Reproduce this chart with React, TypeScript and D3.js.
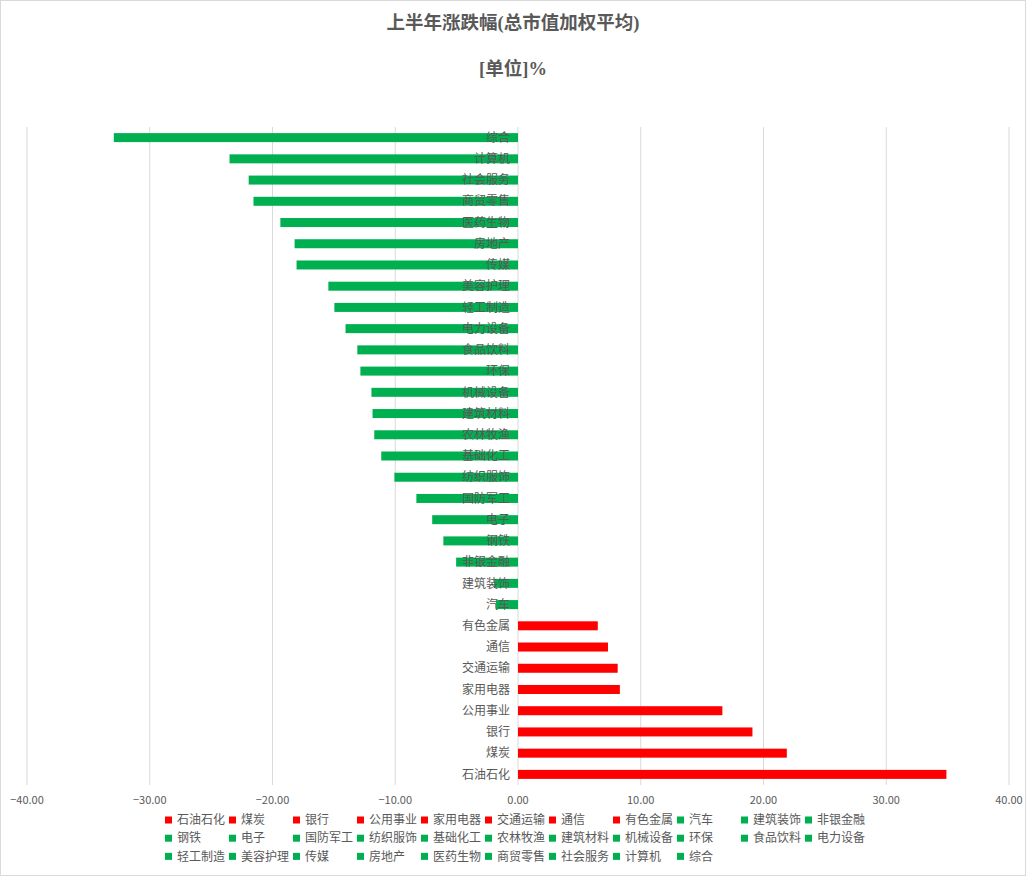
import React from 'react';
import * as d3 from 'd3';

// industries, ordered as in the legend (largest gain first)
const industries = [
  '石油石化', '煤炭', '银行', '公用事业', '家用电器', '交通运输', '通信', '有色金属',
  '汽车', '建筑装饰', '非银金融', '钢铁', '电子', '国防军工', '纺织服饰', '基础化工',
  '农林牧渔', '建筑材料', '机械设备', '环保', '食品饮料', '电力设备', '轻工制造',
  '美容护理', '传媒', '房地产', '医药生物', '商贸零售', '社会服务', '计算机', '综合',
];

// first-half change, %
const changes = [
  34.9, 21.9, 19.1, 16.65, 8.3, 8.12, 7.33, 6.5,
  -1.8, -1.95, -5.04, -6.08, -6.99, -8.28, -10.07, -11.14,
  -11.71, -11.85, -11.94, -12.84, -13.09, -14.05, -14.96,
  -15.45, -18.04, -18.2, -19.36, -21.55, -21.94, -23.5, -32.93,
];

const xTicks = [-40, -30, -20, -10, 0, 10, 20, 30, 40];

const W = 1026;
const H = 876;
const UP = '#FF0000';
const DOWN = '#00B050';
const TXT = '#595959';
const GRID = '#d9d9d9';
const CJK = '"Noto Sans CJK SC", "Noto Sans", sans-serif';
const TITLE_FONT = '"Liberation Serif", "Noto Sans CJK SC", serif';

const App = () => {
  const x = d3.scaleLinear().domain([-40, 40]).range([27, 1009]);

  // bottom row is the first industry, top row the last one
  const y = d3
    .scaleBand<string>()
    .domain([...industries].reverse())
    .range([127, 785])
    .paddingInner(0.576)
    .paddingOuter(0.288);

  const rows = industries.map((name, i) => ({name, value: changes[i]}));

  // legend layout: 11 per row
  const perRow = 11;
  const legendX = 165;
  const legendStep = 64;
  const legendY = 820;
  const legendRowH = 18.2;

  return (
    <svg
      width={W}
      height={H}
      style={{position: 'absolute', left: 0, top: 0, background: '#fff'}}
      fontFamily={CJK}
    >
      <rect x={0.5} y={0.5} width={W - 1} height={H - 1} fill="#fff" stroke={GRID} />

      <text x={513} y={29} textAnchor="middle" fontSize={18.5} fontWeight="bold" fill={TXT} fontFamily={TITLE_FONT}>
        上半年涨跌幅(总市值加权平均)
      </text>
      <text x={513} y={75} textAnchor="middle" fontSize={18.5} fontWeight="bold" fill={TXT} fontFamily={TITLE_FONT}>
        [单位]%
      </text>

      {/* grid */}
      <g>
        {xTicks.map(t => (
          <line key={t} x1={x(t)} x2={x(t)} y1={127} y2={785} stroke={GRID} strokeWidth={1} />
        ))}
      </g>

      {/* bars */}
      <g>
        {rows.map(d => (
          <rect
            key={d.name}
            x={x(Math.min(0, d.value))}
            y={y(d.name)}
            width={Math.abs(x(d.value) - x(0))}
            height={y.bandwidth()}
            fill={d.value >= 0 ? UP : DOWN}
          />
        ))}
      </g>

      {/* category labels sit just left of the zero line */}
      <g>
        {rows.map(d => (
          <text
            key={d.name}
            x={x(0) - 8}
            y={(y(d.name) as number) + y.bandwidth() / 2}
            dy="0.35em"
            textAnchor="end"
            fontSize={12}
            fill={TXT}
          >
            {d.name}
          </text>
        ))}
      </g>

      {/* x tick labels */}
      <g>
        {xTicks.map(t => (
          <text key={t} x={x(t)} y={800} dy="0.35em" textAnchor="middle" fontSize={11} fill={TXT}>
            {d3.format('.2f')(t)}
          </text>
        ))}
      </g>

      {/* legend */}
      <g>
        {rows.map((d, i) => {
          const lx = legendX + (i % perRow) * legendStep;
          const ly = legendY + Math.floor(i / perRow) * legendRowH;
          return (
            <g key={d.name} transform={`translate(${lx}, ${ly})`}>
              <rect x={0} y={-3.5} width={7} height={7} fill={d.value >= 0 ? UP : DOWN} />
              <text x={12} y={0} dy="0.35em" fontSize={12} fill={TXT}>
                {d.name}
              </text>
            </g>
          );
        })}
      </g>
    </svg>
  );
};

export default App;
